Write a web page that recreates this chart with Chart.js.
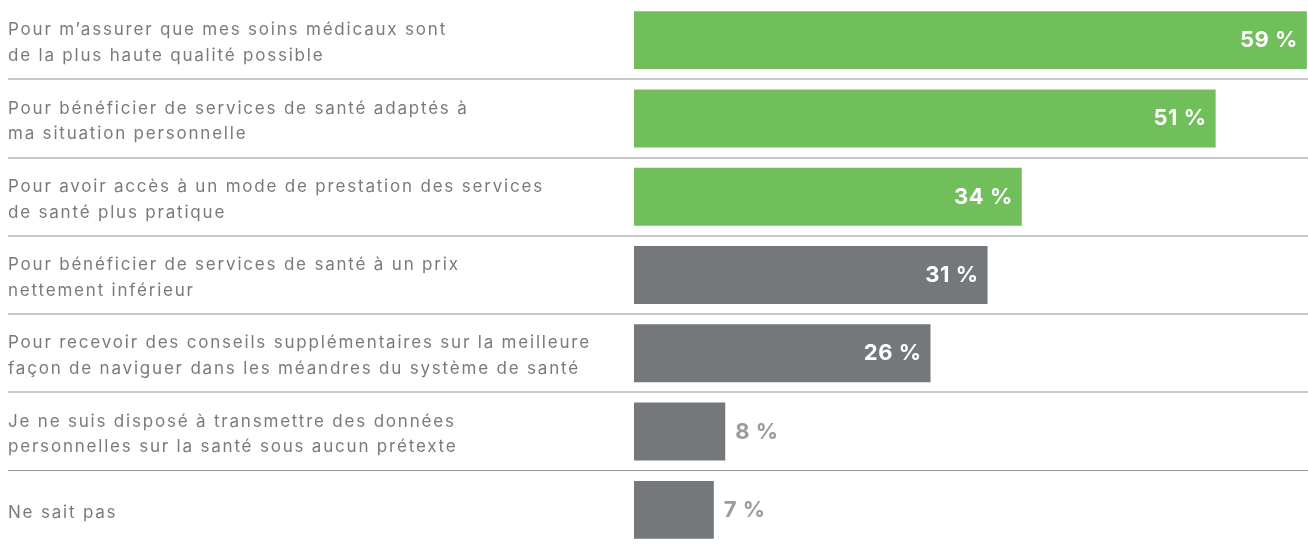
<!DOCTYPE html>
<html lang="fr">
<head>
<meta charset="utf-8">
<script src="https://cdn.jsdelivr.net/npm/chart.js@4"></script>
<style>
  html, body { margin: 0; padding: 0; background: #fff; }
  #wrap { width: 1308px; height: 552px; position: relative; }
</style>
</head>
<body>
<div id="wrap"><canvas id="reasonsChart"></canvas></div>
<script>
const categories = [
    ['Pour m\u2019assurer que mes soins médicaux sont', 'de la plus haute qualité possible'],
    ['Pour bénéficier de services de santé adaptés à', 'ma situation personnelle'],
    ['Pour avoir accès à un mode de prestation des services', 'de santé plus pratique'],
    ['Pour bénéficier de services de santé à un prix', 'nettement inférieur'],
    ['Pour recevoir des conseils supplémentaires sur la meilleure', 'façon de naviguer dans les méandres du système de santé'],
    ['Je ne suis disposé à transmettre des données', 'personnelles sur la santé sous aucun prétexte'],
    ['Ne sait pas']
];
const values = [59, 51, 34, 31, 26, 8, 7];
const highlighted = [true, true, true, false, false, false, false];

const GREEN = '#70bf5a';
const GREY = '#75787b';
const TEXT = '#7a7a7a';
const LABEL_OUT = '#9b9b9b';
const FONT = 'Inter, "Noto Sans", sans-serif';

// category labels on the left, left aligned, drawn by hand so the
// multi-line ticks do not push the chart area around
const categoryLabels = {
    id: 'categoryLabels',
    afterDraw: function (chart) {
        const ctx = chart.ctx;
        const yScale = chart.scales.y;
        const lineHeight = 25.7;
        ctx.save();
        ctx.font = '17px ' + FONT;
        ctx.letterSpacing = '1.8px';
        ctx.fillStyle = TEXT;
        ctx.textAlign = 'left';
        ctx.textBaseline = 'alphabetic';
        categories.forEach(function (lines, i) {
            const y = yScale.getPixelForValue(i) + 8;
            const startY = y - (lines.length - 1) * lineHeight / 2;
            lines.forEach(function (line, j) {
                ctx.fillText(line, 8, startY + j * lineHeight);
            });
        });
        ctx.restore();
    }
};

// values go inside the bar when there is room, otherwise just after it
const valueLabels = {
    id: 'valueLabels',
    afterDatasetsDraw: function (chart) {
        const ctx = chart.ctx;
        const meta = chart.getDatasetMeta(0);
        ctx.save();
        ctx.font = 'bold 22px ' + FONT;
        ctx.letterSpacing = '0.5px';
        ctx.textBaseline = 'alphabetic';
        meta.data.forEach(function (bar, i) {
            const text = values[i] + ' %';
            const width = bar.x - bar.base;
            if (width > 120) {
                ctx.fillStyle = '#ffffff';
                ctx.textAlign = 'right';
                ctx.fillText(text, bar.x - 9, bar.y + 7);
            } else {
                ctx.fillStyle = LABEL_OUT;
                ctx.textAlign = 'left';
                ctx.fillText(text, bar.x + 10, bar.y + 7);
            }
        });
        ctx.restore();
    }
};

new Chart(document.getElementById('reasonsChart'), {
    type: 'bar',
    data: {
        labels: categories.map(function (c) { return c.join(' '); }),
        datasets: [{
            data: values,
            backgroundColor: highlighted.map(function (h) { return h ? GREEN : GREY; }),
            barPercentage: 0.74,
            categoryPercentage: 1
        }]
    },
    options: {
        indexAxis: 'y',
        responsive: true,
        maintainAspectRatio: false,
        animation: false,
        layout: { padding: { left: 8, top: 1, bottom: 3, right: 0 } },
        plugins: { legend: { display: false }, tooltip: { enabled: false } },
        scales: {
            x: {
                display: false,
                min: 0,
                max: 59.1
            },
            y: {
                afterFit: function (scale) { scale.width = 626; },
                border: { display: false },
                grid: {
                    offset: true,
                    drawOnChartArea: true,
                    tickLength: 626,
                    color: function (context) {
                        if (context.type !== 'tick' || context.index === 0) return 'rgba(0,0,0,0)';
                        return context.index === 6 ? '#9a9a9a' : '#c8c8c8';
                    },
                    lineWidth: function (context) {
                        return context.index === 6 ? 1 : 2;
                    }
                },
                ticks: { display: false }
            }
        }
    },
    plugins: [valueLabels, categoryLabels]
});
</script>
</body>
</html>
